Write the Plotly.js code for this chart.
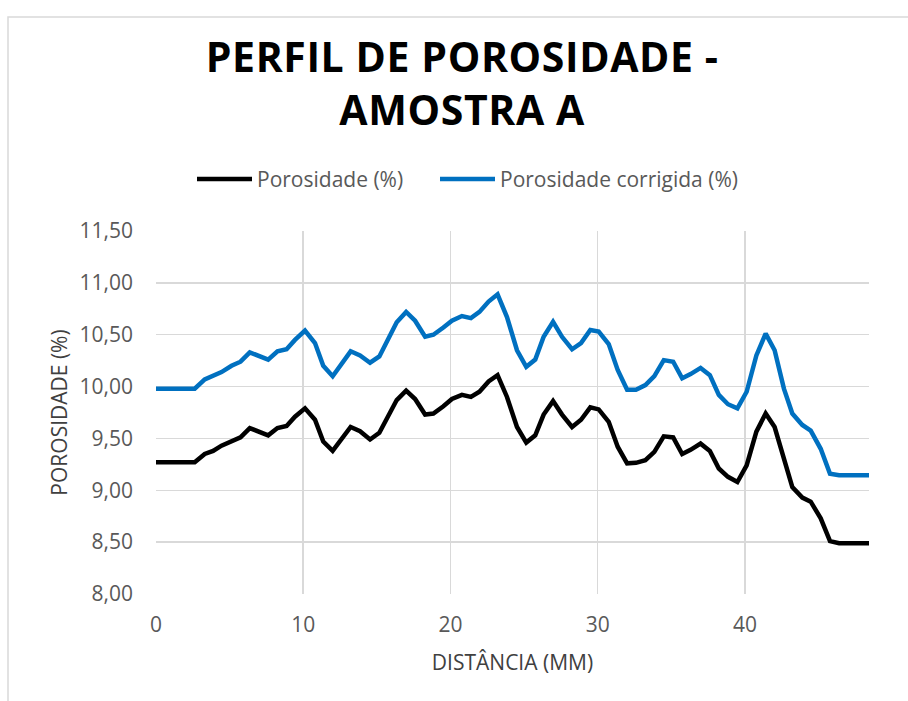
<!DOCTYPE html>
<html>
<head>
<meta charset="utf-8">
<script src="https://cdn.plot.ly/plotly-3.0.1.min.js"></script>
<style>html,body{margin:0;padding:0;background:#fff;}#chart{width:908px;height:701px;}</style>
</head>
<body>
<div id="chart"></div>
<script>
// Distance (mm)
const distancia = [0, 0.63, 1.25, 1.88, 2.63, 3.31, 3.88, 4.45, 5.13, 5.74, 6.37, 7.0, 7.62, 8.25, 8.87, 9.44, 10.12, 10.80, 11.36, 12.0, 12.61, 13.22, 13.86, 14.54, 15.17, 15.78, 16.35, 16.99, 17.6, 18.28, 18.84, 19.52, 20.1, 20.78, 21.39, 21.97, 22.59, 23.2, 23.84, 24.52, 25.15, 25.76, 26.33, 26.97, 27.58, 28.26, 28.87, 29.5, 30.07, 30.75, 31.36, 32.0, 32.6, 33.24, 33.85, 34.49, 35.13, 35.74, 36.31, 36.99, 37.62, 38.23, 38.85, 39.49, 40.12, 40.78, 41.41, 42.02, 42.65, 43.22, 43.9, 44.47, 45.15, 45.78, 46.4, 47.0, 47.7, 48.43];

const porosidade = [9.27, 9.27, 9.27, 9.27, 9.27, 9.35, 9.38, 9.43, 9.47, 9.51, 9.60, 9.565, 9.53, 9.60, 9.62, 9.71, 9.79, 9.68, 9.47, 9.38, 9.49, 9.61, 9.57, 9.49, 9.555, 9.73, 9.87, 9.96, 9.88, 9.73, 9.74, 9.81, 9.88, 9.92, 9.90, 9.95, 10.05, 10.11, 9.90, 9.61, 9.46, 9.53, 9.73, 9.86, 9.73, 9.61, 9.68, 9.80, 9.78, 9.66, 9.42, 9.26, 9.265, 9.29, 9.37, 9.52, 9.51, 9.35, 9.39, 9.45, 9.38, 9.21, 9.13, 9.08, 9.24, 9.565, 9.74, 9.61, 9.29, 9.03, 8.93, 8.89, 8.73, 8.51, 8.49, 8.49, 8.49, 8.49];

const porosidadeCorrigida = [9.98, 9.98, 9.98, 9.98, 9.98, 10.07, 10.10, 10.14, 10.20, 10.24, 10.33, 10.30, 10.26, 10.34, 10.36, 10.45, 10.54, 10.42, 10.20, 10.10, 10.22, 10.34, 10.30, 10.23, 10.29, 10.46, 10.62, 10.72, 10.635, 10.48, 10.50, 10.57, 10.635, 10.68, 10.66, 10.72, 10.82, 10.89, 10.67, 10.35, 10.19, 10.26, 10.48, 10.625, 10.48, 10.36, 10.42, 10.545, 10.53, 10.41, 10.16, 9.97, 9.97, 10.015, 10.10, 10.255, 10.24, 10.08, 10.12, 10.18, 10.11, 9.92, 9.83, 9.79, 9.95, 10.30, 10.51, 10.35, 9.98, 9.74, 9.63, 9.575, 9.40, 9.16, 9.145, 9.145, 9.145, 9.145];

const nomesSeries = ['Porosidade (%)', 'Porosidade corrigida (%)'];
const coresSeries = ['#000000', '#0070C0'];
const yTicks = [8.0, 8.5, 9.0, 9.5, 10.0, 10.5, 11.0, 11.5];
const xTicks = [0, 10, 20, 30, 40];

const gray = '#595959';
const fontFam = '"Open Sans", "Noto Sans", sans-serif';

const traces = nomesSeries.map((nm, i) => ({
  x: distancia, y: i === 0 ? porosidade : porosidadeCorrigida, name: nm,
  type: 'scatter', mode: 'lines', line: {color: coresSeries[i], width: 4.5}
}));

// custom legend (Excel-style long line samples), positions in plot-paper units
const px2x = p => (p - 156) / 713;
const px2y = p => (594 - p) / 363;
const legY = px2y(179);
const legLines = [[197, 252], [440, 495]];
const legText = [255, 498];

const shapes = [
  {type: 'rect', xref: 'paper', yref: 'paper', x0: px2x(8), x1: 1.2, y0: -0.6, y1: px2y(17),
   line: {color: '#d9d9d9', width: 1.5}, fillcolor: 'rgba(0,0,0,0)', layer: 'below'}
];
const annotations = [];
nomesSeries.forEach((nm, i) => {
  shapes.push({type: 'line', xref: 'paper', yref: 'paper', x0: px2x(legLines[i][0]), x1: px2x(legLines[i][1]),
    y0: legY, y1: legY, line: {color: coresSeries[i], width: 4.5}});
  annotations.push({xref: 'paper', yref: 'paper', x: px2x(legText[i]), y: legY, xanchor: 'left', yanchor: 'middle',
    text: nm, showarrow: false, font: {family: fontFam, size: 21, color: gray}});
});

const layout = {
  width: 908, height: 701,
  margin: {l: 156, r: 39, t: 231, b: 107},
  paper_bgcolor: '#ffffff', plot_bgcolor: '#ffffff',
  separators: ',.',
  font: {family: fontFam, color: gray},
  title: {
    text: '<span style="letter-spacing:0.6px">PERFIL DE POROSIDADE -</span><br><span style="letter-spacing:0.6px">AMOSTRA A</span>',
    font: {family: fontFam, size: 41, color: '#000000', weight: 'bold'},
    x: 0.509, xref: 'container', xanchor: 'center',
    y: 1 - 72/701, yref: 'container', yanchor: 'top'
  },
  showlegend: false,
  xaxis: {
    range: [0, 48.43], tickvals: xTicks, ticktext: xTicks.map(String),
    showgrid: true, gridcolor: '#d9d9d9', gridwidth: 1.5,
    zeroline: false, showline: false, ticks: '', ticklabelstandoff: 16,
    tickfont: {family: fontFam, size: 21, color: gray},
    title: {text: 'DISTÂNCIA (MM)', font: {family: fontFam, size: 21, color: '#404040'}, standoff: 18}
  },
  yaxis: {
    range: [8, 11.5], tickvals: yTicks, tickformat: '.2f',
    showgrid: true, gridcolor: '#d9d9d9', gridwidth: 1.5,
    zeroline: false, showline: false, ticks: '', ticklabelstandoff: 22,
    tickfont: {family: fontFam, size: 21, color: gray},
    title: {text: 'POROSIDADE (%)', font: {family: fontFam, size: 21, color: '#404040'}, standoff: 6}
  },
  shapes: shapes,
  annotations: annotations
};

Plotly.newPlot('chart', traces, layout, {displayModeBar: false, staticPlot: true});
</script>
</body>
</html>
